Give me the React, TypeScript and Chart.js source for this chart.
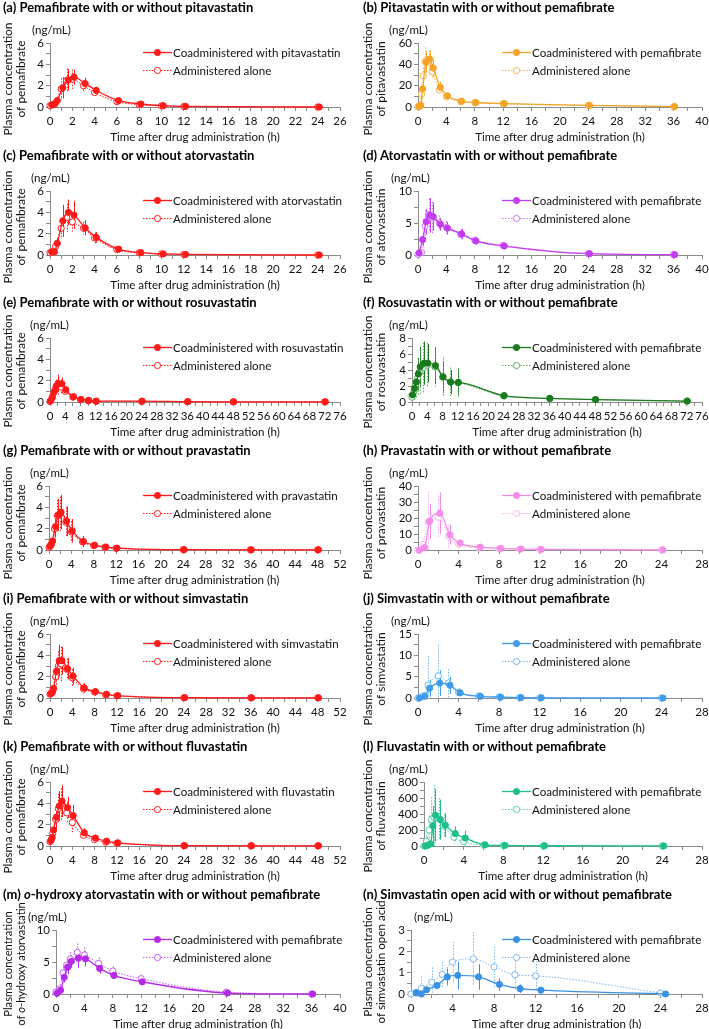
import React, { useEffect, useRef } from "react";
import { Chart, registerables } from "chart.js";
Chart.register(...registerables);

const FONT = "Lato, 'Open Sans', sans-serif";
Chart.defaults.font.family = FONT;

// ---------- (a) pemafibrate with/without pitavastatin ----------
const aTimeAl = [0, 0.25, 0.5, 1, 1.5, 2, 3, 4, 6, 8, 10, 12, 24];
const aConcAl = [0.12, 0.2, 0.4, 1.7, 2.5, 2.6, 2.0, 1.35, 0.5, 0.22, 0.1, 0.05, 0.0];
const aSdAl = [0.05, 0.1, 0.3, 1.0, 1.1, 0.9, 0.5, 0.4, 0.15, 0.08, 0.05, 0.03, 0];
const aTimeCo = [0.15, 0.4, 0.65, 1.15, 1.65, 2.15, 3.15, 4.15, 6.15, 8.15, 10.15, 12.15, 24.15];
const aConcCo = [0.2, 0.25, 0.6, 1.8, 2.55, 2.8, 2.2, 1.55, 0.6, 0.28, 0.12, 0.06, 0.0];
const aSdCo = [0.1, 0.15, 0.35, 1.0, 1.0, 0.7, 0.55, 0.35, 0.15, 0.08, 0.05, 0.03, 0];

// ---------- (b) pitavastatin ----------
const bTimeAl = [0, 0.25, 0.5, 0.75, 1, 1.5, 2, 3, 4, 6, 8, 12, 24, 36];
const bConcAl = [0.3, 1.5, 12, 29, 43, 43, 33, 16, 9.5, 5, 4, 3, 1.5, 0.3];
const bSdAl = [0, 1, 5, 8, 13, 10, 7, 4, 2, 1, 0.8, 0.6, 0.4, 0.1];
const bTimeCo = [0.15, 0.4, 0.65, 1.15, 1.65, 2.15, 3.15, 4.15, 6.15, 8.15, 12.15, 24.15, 36.15];
const bConcCo = [0.5, 1.5, 17, 42, 45, 36.5, 18.5, 10.5, 5.5, 4.2, 3.2, 1.5, 0.4];
const bSdCo = [0, 1, 6, 10, 8, 8, 5, 2, 1, 0.8, 0.6, 0.4, 0.1];

// ---------- (c) pemafibrate with/without atorvastatin ----------
const cTimeAl = [0, 0.25, 0.5, 1, 1.5, 2, 3, 4, 6, 8, 10, 12, 24];
const cConcAl = [0.2, 0.3, 0.8, 2.5, 3.5, 3.1, 2.5, 1.6, 0.5, 0.2, 0.1, 0.05, 0.0];
const cSdAl = [0.1, 0.15, 0.4, 1.0, 1.3, 0.9, 0.6, 0.5, 0.2, 0.08, 0.05, 0.03, 0];
const cTimeCo = [0.15, 0.4, 0.65, 1.15, 1.65, 2.15, 3.15, 4.15, 6.15, 8.15, 10.15, 12.15, 24.15];
const cConcCo = [0.3, 0.3, 1.1, 3.2, 4.0, 3.75, 2.55, 1.65, 0.55, 0.22, 0.1, 0.05, 0.0];
const cSdCo = [0.1, 0.2, 0.5, 1.5, 1.2, 1.3, 0.7, 0.5, 0.2, 0.08, 0.05, 0.03, 0];

// ---------- (d) atorvastatin ----------
const dTimeAl = [0, 0.5, 1, 1.5, 2, 3, 4, 6, 8, 12, 24, 36];
const dConcAl = [0.1, 0.4, 4.5, 6.3, 5.8, 5.0, 4.3, 3.2, 2.3, 1.5, 0.2, 0.05];
const dSdAl = [0.05, 0.3, 2.5, 2.5, 2.5, 1.2, 1.0, 0.8, 0.6, 0.5, 0.1, 0.03];
const dTimeCo = [0.15, 0.65, 1.15, 1.65, 2.15, 3.15, 4.15, 6.15, 8.15, 12.15, 24.15, 36.15];
const dConcCo = [0.3, 2.4, 5.2, 6.2, 6.0, 4.8, 4.2, 3.3, 2.2, 1.4, 0.2, 0.05];
const dSdCo = [0.1, 1.0, 2.0, 2.7, 2.2, 1.0, 1.0, 0.8, 0.6, 0.5, 0.1, 0.03];

// ---------- (e) pemafibrate with/without rosuvastatin ----------
const eTimeAl = [0, 0.5, 1, 1.5, 2, 3, 4, 6, 8, 10, 12, 24, 36, 48, 72];
const eConcAl = [0.05, 0.35, 0.9, 1.3, 1.6, 1.4, 1.0, 0.45, 0.2, 0.12, 0.07, 0.05, 0.02, 0.01, 0.01];
const eSdAl = [0.03, 0.3, 0.5, 0.7, 0.9, 0.7, 0.4, 0.2, 0.1, 0.05, 0.04, 0.03, 0.01, 0, 0];
const eTimeCo = [0.15, 0.65, 1.15, 1.65, 2.15, 3.15, 4.15, 6.15, 8.15, 10.15, 12.15, 24.15, 36.15, 48.15, 72.15];
const eConcCo = [0.1, 0.5, 1.0, 1.5, 1.75, 1.7, 1.15, 0.5, 0.25, 0.15, 0.08, 0.08, 0.03, 0.02, 0.02];
const eSdCo = [0.05, 0.3, 0.5, 0.6, 0.8, 0.6, 0.3, 0.2, 0.1, 0.05, 0.04, 0.03, 0.01, 0, 0];

// ---------- (f) rosuvastatin ----------
const fTimeAl = [0, 0.5, 1, 1.5, 2, 3, 4, 6, 8, 10, 12, 24, 36, 48, 72];
const fConcAl = [0.6, 1.3, 2.2, 3.0, 3.7, 4.3, 4.6, 4.4, 3.1, 2.5, 2.4, 0.75, 0.45, 0.3, 0.1];
const fSdAl = [0.5, 1.0, 1.6, 2.2, 2.7, 3.1, 2.8, 2.5, 2.4, 1.8, 1.8, 0.5, 0.25, 0.15, 0.05];
const fTimeCo = [0.15, 0.65, 1.15, 1.65, 2.15, 3.15, 4.15, 6.15, 8.15, 10.15, 12.15, 24.15, 36.15, 48.15, 72.15];
const fConcCo = [0.9, 1.7, 2.5, 3.5, 4.4, 4.85, 4.85, 4.55, 3.15, 2.5, 2.45, 0.8, 0.45, 0.3, 0.12];
const fSdCo = [0.5, 1.0, 1.5, 2.0, 2.5, 2.7, 2.4, 2.3, 2.0, 1.5, 1.6, 0.4, 0.2, 0.12, 0.05];

// ---------- (g) pemafibrate with/without pravastatin ----------
const gTimeAl = [0, 0.25, 0.5, 1, 1.5, 2, 3, 4, 6, 8, 10, 12, 24, 36, 48];
const gConcAl = [0.25, 0.4, 0.7, 2.0, 3.2, 3.4, 2.6, 1.7, 0.75, 0.4, 0.25, 0.15, 0.03, 0.02, 0.02];
const gSdAl = [0.1, 0.2, 0.4, 1.0, 1.5, 1.6, 1.4, 1.0, 0.5, 0.3, 0.2, 0.1, 0.02, 0, 0];
const gTimeCo = [0.15, 0.4, 0.65, 1.15, 1.65, 2.15, 3.15, 4.15, 6.15, 8.15, 10.15, 12.15, 24.15, 36.15, 48.15];
const gConcCo = [0.35, 0.5, 0.85, 2.2, 3.3, 3.55, 2.7, 1.8, 0.8, 0.45, 0.28, 0.18, 0.03, 0.02, 0.02];
const gSdCo = [0.1, 0.2, 0.4, 1.0, 1.5, 1.6, 1.4, 1.1, 0.5, 0.3, 0.2, 0.1, 0.02, 0, 0];

// ---------- (h) pravastatin ----------
const hTimeAl = [0, 0.5, 1, 2, 3, 4, 6, 8, 10, 12, 24];
const hConcAl = [0, 3.5, 17.5, 20.5, 8.5, 3.5, 1.5, 0.8, 0.5, 0.3, 0.1];
const hSdAl = [0, 2, 19, 13, 7, 2, 1, 0.5, 0.3, 0.2, 0.05];
const hTimeCo = [0.15, 0.65, 1.15, 2.15, 3.15, 4.15, 6.15, 8.15, 10.15, 12.15, 24.15];
const hConcCo = [0, 1.5, 18, 23, 9.5, 4.3, 1.8, 1.0, 0.6, 0.4, 0.1];
const hSdCo = [0, 1, 11, 13, 6, 2.5, 1, 0.5, 0.3, 0.2, 0.05];

// ---------- (i) pemafibrate with/without simvastatin ----------
const iTimeAl = [0, 0.25, 0.5, 1, 1.5, 2, 3, 4, 6, 8, 10, 12, 24, 36, 48];
const iConcAl = [0.35, 0.5, 0.7, 2.0, 3.0, 3.2, 2.7, 1.9, 0.85, 0.55, 0.3, 0.2, 0.03, 0.02, 0.02];
const iSdAl = [0.15, 0.2, 0.4, 0.8, 1.4, 1.6, 1.0, 0.8, 0.45, 0.35, 0.25, 0.15, 0.02, 0, 0];
const iTimeCo = [0.15, 0.4, 0.65, 1.15, 1.65, 2.15, 3.15, 4.15, 6.15, 8.15, 10.15, 12.15, 24.15, 36.15, 48.15];
const iConcCo = [0.4, 0.5, 0.9, 2.5, 3.5, 3.5, 2.75, 2.05, 0.95, 0.6, 0.35, 0.22, 0.03, 0.02, 0.02];
const iSdCo = [0.15, 0.2, 0.4, 0.8, 1.5, 1.3, 1.0, 0.8, 0.45, 0.35, 0.25, 0.15, 0.02, 0, 0];

// ---------- (j) simvastatin ----------
const jTimeAl = [0, 0.5, 1, 2, 3, 4, 6, 8, 10, 12, 24];
const jConcAl = [0, 0.5, 3.0, 5.2, 3.5, 1.3, 0.5, 0.25, 0.1, 0.05, 0];
const jSdAl = [0, 0.5, 6.8, 7.3, 3.3, 1.0, 0.4, 0.2, 0.1, 0.05, 0];
const jTimeCo = [0.15, 0.65, 1.15, 2.15, 3.15, 4.15, 6.15, 8.15, 10.15, 12.15, 24.15];
const jConcCo = [0, 0.4, 2.3, 3.5, 3.0, 1.2, 0.4, 0.2, 0.1, 0.05, 0];
const jSdCo = [0, 0.4, 2.0, 3.0, 2.0, 0.5, 0.3, 0.15, 0.08, 0.04, 0];

// ---------- (k) pemafibrate with/without fluvastatin ----------
const kTimeAl = [0, 0.25, 0.5, 1, 1.5, 2, 3, 4, 6, 8, 10, 12, 24, 36, 48];
const kConcAl = [0.4, 0.6, 1.2, 2.5, 3.5, 3.9, 3.1, 2.2, 1.0, 0.6, 0.35, 0.25, 0.03, 0.02, 0.02];
const kSdAl = [0.2, 0.3, 0.6, 1.0, 1.4, 1.5, 1.0, 0.9, 0.4, 0.3, 0.2, 0.15, 0.02, 0, 0];
const kTimeCo = [0.15, 0.4, 0.65, 1.15, 1.65, 2.15, 3.15, 4.15, 6.15, 8.15, 10.15, 12.15, 24.15, 36.15, 48.15];
const kConcCo = [0.5, 0.8, 1.5, 2.7, 3.75, 4.2, 3.6, 2.85, 1.25, 0.75, 0.45, 0.3, 0.03, 0.02, 0.02];
const kSdCo = [0.2, 0.3, 0.6, 1.0, 1.4, 1.5, 1.0, 1.0, 0.4, 0.3, 0.2, 0.15, 0.02, 0, 0];

// ---------- (l) fluvastatin ----------
const lTimeAl = [0, 0.25, 0.5, 0.75, 1, 1.5, 2, 3, 4, 6, 8, 12, 24];
const lConcAl = [0, 60, 200, 330, 360, 340, 250, 110, 55, 10, 5, 2, 0.5];
const lSdAl = [0, 80, 180, 280, 400, 260, 150, 80, 60, 10, 4, 2, 0.5];
const lTimeCo = [0.15, 0.4, 0.65, 0.9, 1.15, 1.65, 2.15, 3.15, 4.15, 6.15, 8.15, 12.15, 24.15];
const lConcCo = [0, 10, 25, 250, 385, 330, 260, 155, 100, 15, 8, 3, 1];
const lSdCo = [0, 15, 40, 250, 330, 250, 150, 90, 90, 12, 5, 2, 0.5];

// ---------- (m) o-hydroxy atorvastatin ----------
const mTimeAl = [0, 0.5, 1, 1.5, 2, 3, 4, 6, 8, 12, 24, 36];
const mConcAl = [0.3, 0.8, 3.3, 4.5, 5.5, 6.5, 6.1, 4.8, 3.6, 2.4, 0.3, 0.0];
const mSdAl = [0.3, 0.5, 0.9, 1.2, 1.0, 1.4, 1.2, 0.9, 0.7, 0.5, 0.35, 0];
const mTimeCo = [0.15, 0.65, 1.15, 1.65, 2.15, 3.15, 4.15, 6.15, 8.15, 12.15, 24.15, 36.15];
const mConcCo = [0.1, 0.6, 2.6, 4.2, 5.1, 5.6, 5.5, 4.0, 2.9, 1.9, 0.15, 0.0];
const mSdCo = [0.2, 0.5, 0.8, 1.1, 1.0, 1.5, 1.2, 0.8, 0.5, 0.3, 0.1, 0];

// ---------- (n) simvastatin open acid ----------
const nTimeAl = [0, 0.5, 1, 2, 3, 4, 6, 8, 10, 12, 24];
const nConcAl = [0, 0.08, 0.27, 0.55, 0.92, 1.5, 1.65, 1.27, 0.9, 0.85, 0.05];
const nSdAl = [0, 0.1, 0.55, 0.7, 0.6, 0.95, 1.25, 0.95, 0.65, 0.7, 0.05];
const nTimeCo = [0.5, 1, 1.5, 2.5, 3.5, 4.5, 6.5, 8.5, 10.5, 12.5, 24.5];
const nConcCo = [0.05, 0.0, 0.2, 0.4, 0.8, 0.87, 0.8, 0.45, 0.25, 0.18, 0.0];
const nSdCo = [0.05, 0.05, 0.1, 0.15, 0.4, 0.65, 0.6, 0.3, 0.2, 0.1, 0];

const ALONE_LABEL = "Administered alone";
const X_TITLE = "Time after drug administration (h)";
const UNIT_LABEL = "(ng/mL)";
const ROW_TOPS = [0, 148, 295, 443, 591, 739, 887];

const RED = "#FF1A1A";

type Series = { t: number[]; c: number[]; sd: number[] };
type PanelDef = {
  id: string; col: number; row: number; title: React.ReactNode;
  yTitle: string[]; coLabel: string; color: string; alColor: string;
  xMax: number; xMajor: number; yMax: number; yMajor: number;
  co: Series; al: Series; plotLeft: number; unitX: number; yTitleX: number; yTitleY: number; yTitleSize?: number;
};

const PANELS: PanelDef[] = [
  { id: "a", col: 0, row: 0, title: "(a) Pemafibrate with or without pitavastatin", yTitle: ["Plasma concentration", "of pemafibrate"], coLabel: "Coadministered with pitavastatin", color: RED, alColor: RED, xMax: 26, xMajor: 2, yMax: 6, yMajor: 2, co: { t: aTimeCo, c: aConcCo, sd: aSdCo }, al: { t: aTimeAl, c: aConcAl, sd: aSdAl }, plotLeft: 50, unitX: 32, yTitleX: 8.5, yTitleY: 79 },
  { id: "b", col: 1, row: 0, title: "(b) Pitavastatin with or without pemafibrate", yTitle: ["Plasma concentration", "of pitavastatin"], coLabel: "Coadministered with pemafibrate", color: "#F4A324", alColor: "#F6B44E", xMax: 40, xMajor: 4, yMax: 60, yMajor: 20, co: { t: bTimeCo, c: bConcCo, sd: bSdCo }, al: { t: bTimeAl, c: bConcAl, sd: bSdAl }, plotLeft: 64, unitX: 35, yTitleX: 14, yTitleY: 79 },
  { id: "c", col: 0, row: 1, title: "(c) Pemafibrate with or without atorvastatin", yTitle: ["Plasma concentration", "of pemafibrate"], coLabel: "Coadministered with atorvastatin", color: RED, alColor: RED, xMax: 26, xMajor: 2, yMax: 6, yMajor: 2, co: { t: cTimeCo, c: cConcCo, sd: cSdCo }, al: { t: cTimeAl, c: cConcAl, sd: cSdAl }, plotLeft: 50, unitX: 31, yTitleX: 8.5, yTitleY: 79 },
  { id: "d", col: 1, row: 1, title: "(d) Atorvastatin with or without pemafibrate", yTitle: ["Plasma concentration", "of atorvastatin"], coLabel: "Coadministered with pemafibrate", color: "#C43CF2", alColor: "#D070F5", xMax: 40, xMajor: 4, yMax: 10, yMajor: 5, co: { t: dTimeCo, c: dConcCo, sd: dSdCo }, al: { t: dTimeAl, c: dConcAl, sd: dSdAl }, plotLeft: 64, unitX: 37, yTitleX: 14, yTitleY: 79 },
  { id: "e", col: 0, row: 2, title: "(e)  Pemafibrate with or without rosuvastatin", yTitle: ["Plasma concentration", "of pemafibrate"], coLabel: "Coadministered with rosuvastatin", color: RED, alColor: RED, xMax: 76, xMajor: 4, yMax: 6, yMajor: 2, co: { t: eTimeCo, c: eConcCo, sd: eSdCo }, al: { t: eTimeAl, c: eConcAl, sd: eSdAl }, plotLeft: 50, unitX: 30, yTitleX: 8.5, yTitleY: 76 },
  { id: "f", col: 1, row: 2, title: "(f)  Rosuvastatin with or without pemafibrate", yTitle: ["Plasma concentration", "of rosuvastatin"], coLabel: "Coadministered with pemafibrate", color: "#1B7A1E", alColor: "#5AAE5C", xMax: 76, xMajor: 4, yMax: 8, yMajor: 2, co: { t: fTimeCo, c: fConcCo, sd: fSdCo }, al: { t: fTimeAl, c: fConcAl, sd: fSdAl }, plotLeft: 58, unitX: 35, yTitleX: 14, yTitleY: 77 },
  { id: "g", col: 0, row: 3, title: "(g) Pemafibrate with or without pravastatin", yTitle: ["Plasma concentration", "of pemafibrate"], coLabel: "Coadministered with pravastatin", color: RED, alColor: RED, xMax: 52, xMajor: 4, yMax: 6, yMajor: 2, co: { t: gTimeCo, c: gConcCo, sd: gSdCo }, al: { t: gTimeAl, c: gConcAl, sd: gSdAl }, plotLeft: 49, unitX: 30, yTitleX: 8.5, yTitleY: 80 },
  { id: "h", col: 1, row: 3, title: "(h) Pravastatin with or without pemafibrate", yTitle: ["Plasma concentration", "of pravastatin"], coLabel: "Coadministered with pemafibrate", color: "#F48CEA", alColor: "#F7B3F0", xMax: 28, xMajor: 4, yMax: 40, yMajor: 10, co: { t: hTimeCo, c: hConcCo, sd: hSdCo }, al: { t: hTimeAl, c: hConcAl, sd: hSdAl }, plotLeft: 64, unitX: 35, yTitleX: 14, yTitleY: 80 },
  { id: "i", col: 0, row: 4, title: "(i) Pemafibrate with or without simvastatin", yTitle: ["Plasma concentration", "of pemafibrate"], coLabel: "Coadministered with simvastatin", color: RED, alColor: RED, xMax: 52, xMajor: 4, yMax: 6, yMajor: 2, co: { t: iTimeCo, c: iConcCo, sd: iSdCo }, al: { t: iTimeAl, c: iConcAl, sd: iSdAl }, plotLeft: 50, unitX: 30, yTitleX: 8.5, yTitleY: 78 },
  { id: "j", col: 1, row: 4, title: "(j) Simvastatin with or without pemafibrate", yTitle: ["Plasma concentration", "of simvastatin"], coLabel: "Coadministered with pemafibrate", color: "#3E9BEA", alColor: "#6DB5F0", xMax: 28, xMajor: 4, yMax: 15, yMajor: 5, co: { t: jTimeCo, c: jConcCo, sd: jSdCo }, al: { t: jTimeAl, c: jConcAl, sd: jSdAl }, plotLeft: 64, unitX: 37, yTitleX: 14, yTitleY: 78 },
  { id: "k", col: 0, row: 5, title: "(k) Pemafibrate with or without fluvastatin", yTitle: ["Plasma concentration", "of pemafibrate"], coLabel: "Coadministered with fluvastatin", color: RED, alColor: RED, xMax: 52, xMajor: 4, yMax: 6, yMajor: 2, co: { t: kTimeCo, c: kConcCo, sd: kSdCo }, al: { t: kTimeAl, c: kConcAl, sd: kSdAl }, plotLeft: 50, unitX: 30, yTitleX: 8.5, yTitleY: 78 },
  { id: "l", col: 1, row: 5, title: "(l) Fluvastatin with or without pemafibrate", yTitle: ["Plasma concentration", "of fluvastatin"], coLabel: "Coadministered with pemafibrate", color: "#1CBF8C", alColor: "#52CFA6", xMax: 28, xMajor: 4, yMax: 800, yMajor: 200, co: { t: lTimeCo, c: lConcCo, sd: lSdCo }, al: { t: lTimeAl, c: lConcAl, sd: lSdAl }, plotLeft: 70, unitX: 35, yTitleX: 14, yTitleY: 77 },
  { id: "m", col: 0, row: 6, title: (<>(m) <i>o</i>-hydroxy atorvastatin with or without pemafibrate</>), yTitle: ["Plasma concentration", "of *o*-hydroxy atorvastatin"], coLabel: "Coadministered with pemafibrate", color: "#B52AE8", alColor: "#C55CEC", xMax: 40, xMajor: 4, yMax: 10, yMajor: 5, co: { t: mTimeCo, c: mConcCo, sd: mSdCo }, al: { t: mTimeAl, c: mConcAl, sd: mSdAl }, plotLeft: 56, unitX: 28, yTitleX: 8.5, yTitleY: 77, yTitleSize: 11.2 },
  { id: "n", col: 1, row: 6, title: "(n)  Simvastatin open acid with or without pemafibrate", yTitle: ["Plasma concentration", "of simvastatin open acid"], coLabel: "Coadministered with pemafibrate", color: "#3A90E2", alColor: "#7AB7EE", xMax: 28, xMajor: 4, yMax: 3, yMajor: 1, co: { t: nTimeCo, c: nConcCo, sd: nSdCo }, al: { t: nTimeAl, c: nConcAl, sd: nSdAl }, plotLeft: 57, unitX: 60, yTitleX: 14, yTitleY: 75, yTitleSize: 11.6 },
];

const CANVAS_H = 146;
const PLOT_TOP = 43;
const PLOT_BOTTOM = 107;
const DOT = [1.5, 1.5];
const TICK_SIZE = 11.5;
const TEXT_SIZE = 11.6;
const YTITLE_SIZE = 12;
const POINT_R = 3.1;

const pts = (s: Series) => s.t.map((x, i) => ({ x, y: s.c[i] }));
const isMajor = (v: number, major: number) => Math.abs(v / major - Math.round(v / major)) < 1e-6;

function drawRich(ctx: CanvasRenderingContext2D, text: string, size: number) {
  const parts = text.split("*");
  const fonts = parts.map((_, i) => `${i % 2 ? "italic " : ""}${size}px ${FONT}`);
  let total = 0;
  const widths = parts.map((s, i) => {
    ctx.font = fonts[i];
    const w = ctx.measureText(s).width;
    total += w;
    return w;
  });
  let x = -total / 2;
  parts.forEach((s, i) => {
    ctx.font = fonts[i];
    ctx.fillText(s, x, 0);
    x += widths[i];
  });
}

function makeDeco(p: PanelDef) {
  return {
    id: "deco" + p.id,
    beforeDatasetsDraw(chart: any) {
      const { ctx, scales } = chart;
      const xs = scales.x, ys = scales.y;
      chart.data.datasets.forEach((ds: any) => {
        ctx.save();
        ctx.strokeStyle = ds.borderColor;
        ctx.lineWidth = 1;
        ctx.setLineDash(ds.borderDash || []);
        ds.data.forEach((pt: any, i: number) => {
          const sd = ds.sd[i];
          if (!sd) return;
          const px = Math.round(xs.getPixelForValue(pt.x)) + 0.5;
          const top = ys.getPixelForValue(pt.y + sd);
          const bot = ys.getPixelForValue(Math.max(0, pt.y - sd));
          ctx.beginPath();
          ctx.moveTo(px, top);
          ctx.lineTo(px, bot);
          ctx.stroke();
        });
        ctx.restore();
      });
    },
    afterDraw(chart: any) {
      const ctx = chart.ctx;
      ctx.save();
      ctx.fillStyle = "#111";
      ctx.textBaseline = "middle";
      ctx.textAlign = "left";
      // y-axis title (two rotated lines)
      p.yTitle.forEach((line, i) => {
        ctx.save();
        ctx.translate(p.yTitleX + i * 13, p.yTitleY);
        ctx.rotate(-Math.PI / 2);
        drawRich(ctx, line, p.yTitleSize || YTITLE_SIZE);
        ctx.restore();
      });
      ctx.font = `${TEXT_SIZE}px ${FONT}`;
      ctx.fillText(UNIT_LABEL, p.unitX, 30);
      const lx0 = p.col === 0 ? 143 : 148;
      const lx1 = lx0 + 29;
      const rows = [
        { y: 52, label: p.coLabel, color: p.color, dash: [] as number[], filled: true },
        { y: 70, label: ALONE_LABEL, color: p.alColor, dash: DOT, filled: false },
      ];
      rows.forEach((r) => {
        ctx.strokeStyle = r.color;
        ctx.lineWidth = r.filled ? 1.3 : 1;
        ctx.setLineDash(r.dash);
        ctx.beginPath();
        ctx.moveTo(lx0, r.y + 0.5);
        ctx.lineTo(lx1, r.y + 0.5);
        ctx.stroke();
        ctx.setLineDash([]);
        ctx.beginPath();
        ctx.arc((lx0 + lx1) / 2, r.y + 0.5, POINT_R, 0, Math.PI * 2);
        ctx.fillStyle = r.filled ? r.color : "#fff";
        ctx.fill();
        ctx.lineWidth = 1;
        ctx.stroke();
        ctx.fillStyle = "#111";
        ctx.fillText(r.label, lx1 + 1, r.y + 1);
      });
      ctx.restore();
    },
  };
}

function Panel({ p }: { p: PanelDef }) {
  const ref = useRef<HTMLCanvasElement>(null);
  const W = p.col === 0 ? 354 : 355;
  const plotRight = p.col === 0 ? 340 : 348;
  const left = p.col === 0 ? 0 : 354;
  const top = ROW_TOPS[p.row];

  useEffect(() => {
    if (!ref.current) return;
    const tickFont = { family: FONT, size: TICK_SIZE };
    const chart = new Chart(ref.current, {
      type: "line",
      data: {
        datasets: [
          {
            label: p.coLabel,
            data: pts(p.co),
            sd: p.co.sd,
            borderColor: p.color,
            backgroundColor: p.color,
            borderWidth: 1.3,
            pointRadius: POINT_R,
            pointBackgroundColor: p.color,
            pointBorderColor: p.color,
            pointBorderWidth: 1,
            cubicInterpolationMode: "monotone",
            clip: false,
          } as any,
          {
            label: ALONE_LABEL,
            data: pts(p.al),
            sd: p.al.sd,
            borderColor: p.alColor,
            backgroundColor: "#fff",
            borderWidth: 1,
            borderDash: DOT,
            pointRadius: POINT_R,
            pointBackgroundColor: "#fff",
            pointBorderColor: p.alColor,
            pointBorderWidth: 1,
            cubicInterpolationMode: "monotone",
            clip: false,
          } as any,
        ],
      },
      options: {
        responsive: false,
        animation: false,
        devicePixelRatio: 1,
        layout: { padding: { top: PLOT_TOP, left: 0, right: W - plotRight, bottom: 0 } },
        plugins: { legend: { display: false }, tooltip: { enabled: false }, title: { display: false } },
        scales: {
          x: {
            type: "linear",
            min: 0,
            max: p.xMax,
            ticks: {
              stepSize: p.xMajor / 2,
              autoSkip: false,
              maxRotation: 0,
              minRotation: 0,
              color: "#111",
              font: tickFont,
              padding: 3,
              callback: (v: any) => (isMajor(Number(v), p.xMajor) ? String(v) : ""),
            },
            grid: { drawOnChartArea: false, drawTicks: true, tickLength: 4, color: "#8a8a8a" },
            border: { color: "#8a8a8a", width: 1 },
            title: { display: true, text: X_TITLE, color: "#111", font: { family: FONT, size: TEXT_SIZE }, padding: { top: 0, bottom: 2 } },
            afterFit: (s: any) => {
              s.height = CANVAS_H - PLOT_BOTTOM;
              s.paddingLeft = 0;
              s.paddingRight = 0;
            },
          },
          y: {
            type: "linear",
            min: 0,
            max: p.yMax,
            ticks: {
              stepSize: p.yMajor / 2,
              autoSkip: false,
              color: "#111",
              font: tickFont,
              padding: 2,
              callback: (v: any) => (isMajor(Number(v), p.yMajor) ? String(v) : ""),
            },
            grid: { drawOnChartArea: false, drawTicks: true, tickLength: 4, color: "#8a8a8a" },
            border: { color: "#8a8a8a", width: 1 },
            title: { display: false },
            afterFit: (s: any) => {
              s.width = p.plotLeft;
              s.paddingTop = 0;
              s.paddingBottom = 0;
            },
          },
        },
      } as any,
      plugins: [makeDeco(p)],
    });
    return () => chart.destroy();
  }, []);

  return (
    <>
      <canvas ref={ref} width={W} height={CANVAS_H} style={{ position: "absolute", left, top, width: W, height: CANVAS_H }} />
      <div
        style={{
          position: "absolute",
          left: left + (p.col === 0 ? 3 : 9),
          top,
          font: `bold 13px ${FONT}`,
          lineHeight: "15px",
          whiteSpace: "nowrap",
          color: "#000",
        }}
      >
        {p.title}
      </div>
    </>
  );
}

export default function App() {
  return (
    <div style={{ position: "absolute", left: 0, top: 0, width: 709, height: 1029, overflow: "hidden", background: "#fff" }}>
      {PANELS.map((p) => (
        <Panel key={p.id} p={p} />
      ))}
    </div>
  );
}
